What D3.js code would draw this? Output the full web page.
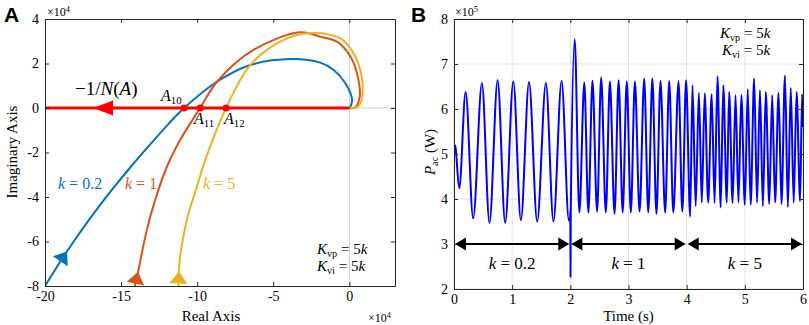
<!DOCTYPE html>
<html>
<head>
<meta charset="utf-8">
<script src="https://cdn.jsdelivr.net/npm/d3@7"></script>
<style>
  body { margin: 0; background: #fff; }
  svg text { font-family: "Liberation Serif", "Times New Roman", serif; fill: #000; }
</style>
</head>
<body>
<svg id="chart" width="809" height="325"></svg>
<script>
// ---- panel A: Nyquist curves (real, imag in 1e4) ----
const curveK02 = [[-20, -8], [-18.64, -6.53], [-17.11, -5.03], [-15.78, -3.83], [-14.36, -2.64],
  [-13.03, -1.59], [-11.85, -0.69], [-10.86, 0], [-8.7, 1.18], [-6.51, 1.93], [-3.8, 2.2],
  [-1.91, 2.04], [-1.03, 1.71], [-0.26, 1.11], [0.18, 0.36], [0.03, 0]];
const curveK1 = [[-14.1, -8], [-13.86, -7.28], [-13.31, -5.48], [-12.76, -4.13], [-11.99, -2.64],
  [-11.12, -1.44], [-10.24, -0.46], [-9.8, 0], [-8.7, 1.18], [-6.3, 2.61], [-3.22, 3.4],
  [-1.91, 3.2], [-0.81, 2.98], [0.07, 2.31], [0.55, 1.41], [0.68, 0.51], [0.39, 0.03], [0.03, 0]];
const curveK5 = [[-11.23, -8], [-11.12, -6.68], [-10.68, -5.03], [-10.02, -3.54], [-9.47, -2.34],
  [-8.1, 0], [-6.51, 1.93], [-4.32, 3.06], [-2.6, 3.37], [-0.59, 3.13], [0.28, 2.46],
  [0.77, 1.56], [0.84, 0.51], [0.61, 0.09], [0.05, 0]];
const curveColors = ["#0072BD", "#D95319", "#EDB120"];
const kValues = ["0.2", "1", "5"];
const arrowTips = [[-18.68, -6.38], [-13.93, -7.36], [-11.05, -7.36]];
const crossRe = [-10.86, -9.8, -8.1];
const crossSub = ["10", "11", "12"];
const xTicksA = [-20, -15, -10, -5, 0];
const yTicksA = [4, 2, 0, -2, -4, -6, -8];

// ---- panel B: P_ac time series (W, in 1e5) ----
const pacTime = [0, 0.02, 0.09, 0.20, 0.33, 0.48, 0.61, 0.75, 0.88, 1.02, 1.15, 1.29, 1.43, 1.58, 1.71,
  1.85, 1.975, 1.99, 1.995, 2.0, 2.003, 2.007, 2.075, 2.155, 2.24, 2.31, 2.38, 2.46, 2.53, 2.61, 2.68,
  2.76, 2.83, 2.90, 2.97, 3.04, 3.11, 3.19, 3.27, 3.34, 3.41, 3.48, 3.55, 3.63, 3.70, 3.77, 3.86, 3.925,
  3.99, 4.06, 4.10, 4.155, 4.21, 4.26, 4.31, 4.37, 4.43, 4.48, 4.53, 4.585, 4.63, 4.69, 4.73, 4.79,
  4.84, 4.89, 4.94, 5.0, 5.05, 5.1, 5.16, 5.21, 5.26, 5.31, 5.36, 5.42, 5.47, 5.52, 5.58, 5.63, 5.69,
  5.74, 5.79, 5.84, 5.89, 5.95, 5.985, 6.0];
const pacVal = [5.2, 5.18, 4.24, 6.38, 3.57, 6.57, 3.47, 6.64, 3.47, 6.61, 3.53, 6.6, 3.5, 6.58, 3.5,
  6.62, 3.52, 3.58, 3.5, 3.75, 2.27, 3.65, 7.55, 3.7, 6.59, 3.7, 6.63, 3.72, 6.7, 3.7, 6.61,
  3.67, 6.64, 3.7, 6.61, 3.7, 6.61, 3.72, 6.67, 3.7, 6.68, 3.67, 6.62, 3.7, 6.62, 3.7, 6.61, 3.72,
  6.64, 3.61, 6.53, 3.84, 6.36, 3.92, 6.35, 3.92, 6.33, 3.91, 6.72, 3.81, 6.53, 3.92, 6.38, 3.91,
  6.31, 3.92, 6.31, 3.87, 6.44, 3.87, 6.68, 3.92, 6.42, 3.84, 6.38, 3.89, 6.31, 3.92, 6.36, 3.89, 6.74,
  3.82, 6.47, 3.92, 6.38, 3.95, 6.33, 5.6];
const xTicksB = [0, 1, 2, 3, 4, 5, 6];
const yTicksB = [2, 3, 4, 5, 6, 7, 8];
const segStart = [0, 2, 4];
const segEnd = [2, 4, 6];
const segArrowY = 3;

const svg = d3.select("#chart");
const axisColor = "#262626";

const xA = d3.scaleLinear().domain([-20, 3]).range([45, 395]);
const yA = d3.scaleLinear().domain([-8, 4]).range([286, 19]);
const xB = d3.scaleLinear().domain([0, 6]).range([454, 803]);
const yB = d3.scaleLinear().domain([2, 8]).range([289, 19]);

// text with italic / sub / sup parts
function rich(g, x, y, parts, size, anchor) {
  const t = g.append("text").attr("x", x).attr("y", y)
    .attr("font-size", size).attr("text-anchor", anchor || "start");
  parts.forEach((p) => {
    const s = t.append("tspan").text(p.t);
    if (p.it) s.attr("font-style", "italic");
    if (p.sub) s.attr("font-size", size * 0.68).attr("baseline-shift", "-25%");
    if (p.sup) s.attr("font-size", size * 0.7).attr("baseline-shift", "45%");
  });
  return t;
}

function frame(g, x, y, xt, yt) {
  const [xl, xr] = x.range();
  const [yb, yt0] = y.range();
  const style = (sel) => {
    sel.select(".domain").attr("stroke", axisColor);
    sel.selectAll(".tick line").attr("stroke", axisColor);
    sel.selectAll("text").attr("font-family", "Liberation Serif, Times New Roman, serif")
      .attr("font-size", 14).attr("fill", "#000");
  };
  g.append("g").attr("transform", `translate(0,${yb})`)
    .call(d3.axisBottom(x).tickValues(xt).tickSize(-4).tickSizeOuter(0).tickPadding(5).tickFormat((d) => String(d)))
    .call(style);
  g.append("g").attr("transform", `translate(0,${yt0})`)
    .call(d3.axisTop(x).tickValues(xt).tickSize(-4).tickSizeOuter(0).tickFormat(""))
    .call(style);
  g.append("g").attr("transform", `translate(${xl},0)`)
    .call(d3.axisLeft(y).tickValues(yt).tickSize(-4).tickSizeOuter(0).tickPadding(6).tickFormat((d) => String(d)))
    .call(style);
  g.append("g").attr("transform", `translate(${xr},0)`)
    .call(d3.axisRight(y).tickValues(yt).tickSize(-4).tickSizeOuter(0).tickFormat(""))
    .call(style);
}

function triangle(g, tip, dir, len, halfW, color) {
  const bx = tip[0] - dir[0] * len, by = tip[1] - dir[1] * len;
  const nx = -dir[1], ny = dir[0];
  g.append("path")
    .attr("d", `M${tip[0]},${tip[1]}L${bx + nx * halfW},${by + ny * halfW}L${bx - nx * halfW},${by - ny * halfW}Z`)
    .attr("fill", color);
}

// ================= Panel A =================
const gA = svg.append("g");
svg.append("clipPath").attr("id", "clipA").append("rect")
  .attr("x", 45).attr("y", 19).attr("width", 350).attr("height", 267);

gA.append("line").attr("x1", xA(0)).attr("x2", xA(0)).attr("y1", yA(4)).attr("y2", yA(-8))
  .attr("stroke", "#d0d0d0");
gA.append("line").attr("x1", xA(-20)).attr("x2", xA(3)).attr("y1", yA(0)).attr("y2", yA(0))
  .attr("stroke", "#d0d0d0");

const lineA = d3.line().x((d) => xA(d[0])).y((d) => yA(d[1])).curve(d3.curveCatmullRom.alpha(0.5));
const plotA = gA.append("g").attr("clip-path", "url(#clipA)");

[curveK02, curveK1, curveK5].forEach((pts, i) => {
  const p = plotA.append("path").datum(pts).attr("d", lineA)
    .attr("fill", "none").attr("stroke", curveColors[i]).attr("stroke-width", 2);
  // arrow placed at the point on the path nearest to the read tip
  const node = p.node();
  const total = node.getTotalLength();
  const tx = xA(arrowTips[i][0]), ty = yA(arrowTips[i][1]);
  let best = 0, bd = Infinity;
  for (let l = 0; l <= total; l += 0.5) {
    const q = node.getPointAtLength(l);
    const dd = (q.x - tx) ** 2 + (q.y - ty) ** 2;
    if (dd < bd) { bd = dd; best = l; }
  }
  const a = node.getPointAtLength(Math.max(0, best - 4));
  const b = node.getPointAtLength(best + 4);
  const n = Math.hypot(b.x - a.x, b.y - a.y);
  const tip = node.getPointAtLength(best);
  triangle(gA, [tip.x, tip.y], [(b.x - a.x) / n, (b.y - a.y) / n], 12, 9, curveColors[i]);
});

// -1/N(A) locus
gA.append("line").attr("x1", xA(-20)).attr("x2", xA(0)).attr("y1", yA(0)).attr("y2", yA(0))
  .attr("stroke", "#FF0000").attr("stroke-width", 3);
triangle(gA, [xA(-16.84), yA(0)], [-1, 0], 20, 7.5, "#FF0000");
crossRe.forEach((r) => {
  gA.append("circle").attr("cx", xA(r)).attr("cy", yA(0)).attr("r", 3.6).attr("fill", "#FF0000");
});

frame(gA, xA, yA, xTicksA, yTicksA);

rich(gA, 75, 95, [{ t: "\u22121/" }, { t: "N", it: true }, { t: "(" }, { t: "A", it: true }, { t: ")" }], 19);
rich(gA, 161, 101, [{ t: "A", it: true }, { t: crossSub[0], sub: true }], 16);
rich(gA, 194, 124, [{ t: "A", it: true }, { t: crossSub[1], sub: true }], 16);
rich(gA, 224, 124, [{ t: "A", it: true }, { t: crossSub[2], sub: true }], 16);

const kLabelX = [58, 125, 203];
kValues.forEach((k, i) => {
  rich(gA, kLabelX[i], 189, [{ t: "k", it: true }, { t: " = " + k }], 16)
    .selectAll("tspan").attr("fill", curveColors[i]);
});

rich(gA, 317, 254, [{ t: "K", it: true }, { t: "vp", sub: true }, { t: " = 5" }, { t: "k", it: true }], 15);
rich(gA, 317, 271, [{ t: "K", it: true }, { t: "vi", sub: true }, { t: " = 5" }, { t: "k", it: true }], 15);

rich(gA, 47, 16, [{ t: "\u00d710" }, { t: "4", sup: true }], 12);
rich(gA, 368, 322, [{ t: "\u00d710" }, { t: "4", sup: true }], 12);

gA.append("text").attr("x", 211).attr("y", 321).attr("text-anchor", "middle")
  .attr("font-size", 15).text("Real Axis");
gA.append("text").attr("transform", "translate(17,152) rotate(-90)").attr("text-anchor", "middle")
  .attr("font-size", 15).text("Imaginary Axis");

// ================= Panel B =================
const gB = svg.append("g");
xTicksB.forEach((t) => {
  gB.append("line").attr("x1", xB(t)).attr("x2", xB(t)).attr("y1", yB(2)).attr("y2", yB(8))
    .attr("stroke", "#e3e3e3");
});
yTicksB.forEach((v) => {
  gB.append("line").attr("x1", xB(0)).attr("x2", xB(6)).attr("y1", yB(v)).attr("y2", yB(v))
    .attr("stroke", "#e3e3e3");
});

const pacData = pacTime.map((t, i) => [t, pacVal[i]]);
gB.append("path").datum(pacData)
  .attr("d", d3.line().x((d) => xB(d[0])).y((d) => yB(d[1])).curve(d3.curveMonotoneX))
  .attr("fill", "none").attr("stroke", "#0000FF").attr("stroke-width", 2).attr("stroke-linejoin", "round");

frame(gB, xB, yB, xTicksB, yTicksB);

segStart.forEach((s, i) => {
  const y = yB(segArrowY);
  const x1 = xB(s) + 1, x2 = xB(segEnd[i]) - 1;
  gB.append("line").attr("x1", x1 + 8).attr("x2", x2 - 8).attr("y1", y).attr("y2", y)
    .attr("stroke", "#000").attr("stroke-width", 2);
  triangle(gB, [x1, y], [-1, 0], 11, 6.5, "#000");
  triangle(gB, [x2, y], [1, 0], 11, 6.5, "#000");
  rich(gB, (xB(s) + xB(segEnd[i])) / 2, 269, [{ t: "k", it: true }, { t: " = " + kValues[i] }], 17, "middle");
});

rich(gB, 720, 38, [{ t: "K", it: true }, { t: "vp", sub: true }, { t: " = 5" }, { t: "k", it: true }], 15);
rich(gB, 722, 55, [{ t: "K", it: true }, { t: "vi", sub: true }, { t: " = 5" }, { t: "k", it: true }], 15);

rich(gB, 455, 16, [{ t: "\u00d710" }, { t: "5", sup: true }], 12);

gB.append("text").attr("x", xB(3)).attr("y", 321).attr("text-anchor", "middle")
  .attr("font-size", 15).text("Time (s)");
rich(gB, 0, 0, [{ t: "P", it: true }, { t: "ac", sub: true }, { t: " (W)" }], 15, "middle")
  .attr("transform", "translate(435,152) rotate(-90)");

// panel letters
svg.append("text").attr("x", 4).attr("y", 22).attr("font-size", 21).attr("font-weight", "bold")
  .style("font-family", "Liberation Sans, Arial, sans-serif").text("A");
svg.append("text").attr("x", 411).attr("y", 22).attr("font-size", 21).attr("font-weight", "bold")
  .style("font-family", "Liberation Sans, Arial, sans-serif").text("B");
</script>
</body>
</html>
